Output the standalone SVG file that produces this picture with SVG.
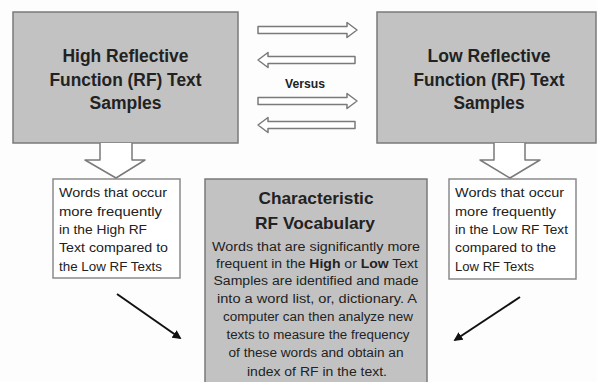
<svg xmlns="http://www.w3.org/2000/svg" width="597" height="382" viewBox="0 0 597 382">
<defs>
<style>
.big{fill:#c2c2c2;stroke:#7a7a7a;stroke-width:1.5}
.small{fill:#fff;stroke:#8a8a8a;stroke-width:1.5}
.blk{fill:#fff;stroke:#7a7a7a;stroke-width:1.5;stroke-linejoin:round}
.h{font-family:"Liberation Sans",Arial,sans-serif;font-weight:bold;fill:#222;text-anchor:middle}
.t{font-family:"Liberation Sans",Arial,sans-serif;fill:#222}
.b{font-family:"Liberation Sans",Arial,sans-serif;fill:#222;text-anchor:middle;font-size:12px}
.diag{stroke:#111;stroke-width:2;fill:none}
</style>
<marker id="ah" viewBox="0 0 10 10" refX="8" refY="5" markerWidth="4.5" markerHeight="4.5" orient="auto">
<path d="M0,0 L10,5 L0,10 Z" fill="#111"/>
</marker>
</defs>
<rect width="597" height="382" fill="#fdfdfd"/>

<g id="high-samples">
<rect class="big" x="13" y="12" width="225" height="131"/>
<text class="h" font-size="18" x="125.5" y="62" textLength="126" lengthAdjust="spacingAndGlyphs">High Reflective</text>
<text class="h" font-size="18" x="125.5" y="86" textLength="152" lengthAdjust="spacingAndGlyphs">Function (RF) Text</text>
<text class="h" font-size="18" x="125.5" y="109" textLength="72" lengthAdjust="spacingAndGlyphs">Samples</text>
</g>

<g id="low-samples">
<rect class="big" x="377" y="12" width="219" height="131"/>
<text class="h" font-size="18" x="489" y="62" textLength="123" lengthAdjust="spacingAndGlyphs">Low Reflective</text>
<text class="h" font-size="18" x="489" y="86" textLength="151" lengthAdjust="spacingAndGlyphs">Function (RF) Text</text>
<text class="h" font-size="18" x="489" y="109" textLength="71" lengthAdjust="spacingAndGlyphs">Samples</text>
</g>

<g id="versus">
<text class="h" font-size="12" x="305" y="88" textLength="40" lengthAdjust="spacingAndGlyphs">Versus</text>
</g>

<g id="high-words">
<rect class="small" x="53" y="179" width="127" height="99"/>
<text class="t" font-size="13" x="59" y="197" textLength="108" lengthAdjust="spacingAndGlyphs">Words that occur</text>
<text class="t" font-size="13" x="59" y="216" textLength="103" lengthAdjust="spacingAndGlyphs">more frequently</text>
<text class="t" font-size="13" x="59" y="234" textLength="88" lengthAdjust="spacingAndGlyphs">in the High RF</text>
<text class="t" font-size="13" x="59" y="252" textLength="109" lengthAdjust="spacingAndGlyphs">Text compared to</text>
<text class="t" font-size="13" x="59" y="271" textLength="103" lengthAdjust="spacingAndGlyphs">the Low RF Texts</text>
</g>

<g id="low-words">
<rect class="small" x="449" y="179" width="127" height="100"/>
<text class="t" font-size="13" x="455" y="197" textLength="109" lengthAdjust="spacingAndGlyphs">Words that occur</text>
<text class="t" font-size="13" x="455" y="216" textLength="101" lengthAdjust="spacingAndGlyphs">more frequently</text>
<text class="t" font-size="13" x="455" y="234" textLength="113" lengthAdjust="spacingAndGlyphs">in the Low RF Text</text>
<text class="t" font-size="13" x="455" y="252" textLength="101" lengthAdjust="spacingAndGlyphs">compared to the</text>
<text class="t" font-size="13" x="455" y="271" textLength="79" lengthAdjust="spacingAndGlyphs">Low RF Texts</text>
</g>

<g id="vocabulary">
<rect class="big" x="205" y="179" width="222" height="215"/>
<text class="h" font-size="17" x="316" y="204" textLength="115" lengthAdjust="spacingAndGlyphs">Characteristic</text>
<text class="h" font-size="17" x="315" y="229" textLength="120" lengthAdjust="spacingAndGlyphs">RF Vocabulary</text>
<text class="b" x="316" y="251" textLength="208" lengthAdjust="spacingAndGlyphs">Words that are significantly more</text>
<text class="b" x="317" y="268" textLength="202" lengthAdjust="spacingAndGlyphs">frequent in the <tspan font-weight="bold">High</tspan> or <tspan font-weight="bold">Low</tspan> Text</text>
<text class="b" x="316" y="285" textLength="205" lengthAdjust="spacingAndGlyphs">Samples are identified and made</text>
<text class="b" x="317" y="303" textLength="200" lengthAdjust="spacingAndGlyphs">into a word list, or, dictionary.  A</text>
<text class="b" x="318" y="321" textLength="190" lengthAdjust="spacingAndGlyphs">computer can then analyze new</text>
<text class="b" x="318" y="339" textLength="183" lengthAdjust="spacingAndGlyphs">texts to measure the frequency</text>
<text class="b" x="316" y="357" textLength="175" lengthAdjust="spacingAndGlyphs">of these words and obtain an</text>
<text class="b" x="317" y="376" textLength="140" lengthAdjust="spacingAndGlyphs">index of RF in the text.</text>
</g>

<g id="connectors">
<path class="blk" d="M258,26.5 L347,26.5 L347,22.5 L357,30 L347,37.5 L347,33.5 L258,33.5 Z"/>
<path class="blk" d="M355,56.5 L268,56.5 L268,52.5 L258,60 L268,67.5 L268,63.5 L355,63.5 Z"/>
<path class="blk" d="M258,97.5 L347,97.5 L347,93.5 L357,101 L347,108.5 L347,104.5 L258,104.5 Z"/>
<path class="blk" d="M355,121.5 L268,121.5 L268,117.5 L258,125 L268,132.5 L268,128.5 L355,128.5 Z"/>
<path class="blk" d="M100,143 L100,160 L85,160 L116,178 L145,160 L132,160 L132,143"/>
<path class="blk" d="M494,143 L494,160 L480,160 L510,178 L540,160 L525,160 L525,143"/>
<line class="diag" x1="117" y1="294" x2="180" y2="338" marker-end="url(#ah)"/>
<line class="diag" x1="520" y1="297" x2="455" y2="340" marker-end="url(#ah)"/>
</g>
</svg>
